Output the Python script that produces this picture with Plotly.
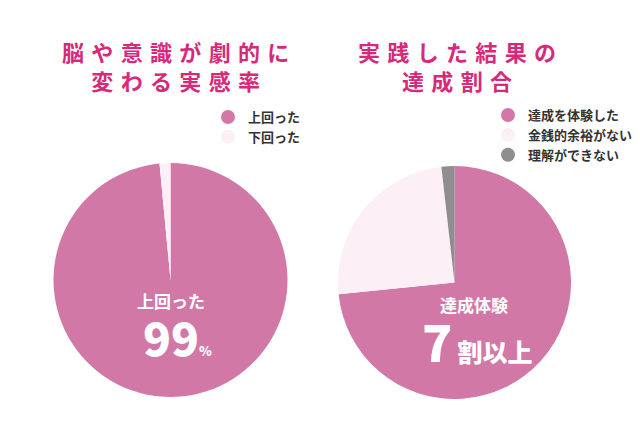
import plotly.graph_objects as go

# left chart data
left_labels = ["上回った", "下回った"]
left_values = [98.5, 1.5]
left_colors = ["#D178A7", "#FDEFF6"]

# right chart data
right_labels = ["達成を体験した", "金銭的余裕がない", "理解ができない"]
right_values = [73.4, 24.8, 1.8]
right_colors = ["#D178A7", "#FDEFF6", "#8E8E8E"]

title_left = ["脳や意識が劇的に", "変わる実感率"]
title_right = ["実践した結果の", "達成割合"]

W, H = 640, 427
OFF = 8  # page body margin
jp = "Noto Sans CJK JP"
title_color = "#D6297A"


def px_x(v):
    return (v - OFF) / W


def px_y(v):
    return 1 - (v - OFF) / H


fig = go.Figure()

fig.add_trace(go.Pie(
    labels=left_labels, values=left_values, sort=False, direction="clockwise",
    marker=dict(colors=left_colors, line=dict(width=0)), textinfo="none",
    showlegend=False,
    domain=dict(x=[px_x(53.5), px_x(287.5)], y=[px_y(397), px_y(163)]),
))
fig.add_trace(go.Pie(
    labels=right_labels, values=right_values, sort=False, direction="clockwise",
    marker=dict(colors=right_colors, line=dict(width=0)), textinfo="none",
    showlegend=False,
    domain=dict(x=[px_x(338), px_x(571)], y=[px_y(399), px_y(166)]),
))

# legend entries as circle markers
for lab, col in zip(left_labels, left_colors):
    fig.add_trace(go.Scatter(x=[None], y=[None], mode="markers", name=lab,
                             marker=dict(color=col, size=14), legend="legend"))
for lab, col in zip(right_labels, right_colors):
    fig.add_trace(go.Scatter(x=[None], y=[None], mode="markers", name=lab,
                             marker=dict(color=col, size=14), legend="legend2"))

legend_font = dict(family=jp, size=13, color="#333333", weight="bold")

fig.update_layout(
    width=W, height=H,
    margin=dict(l=0, r=0, t=0, b=0),
    paper_bgcolor="white", plot_bgcolor="white",
    xaxis=dict(visible=False), yaxis=dict(visible=False),
    legend=dict(x=px_x(208), y=px_y(102), xanchor="left", yanchor="top",
                font=legend_font, bgcolor="rgba(0,0,0,0)", tracegroupgap=0),
    legend2=dict(x=px_x(488), y=px_y(100), xanchor="left", yanchor="top",
                 font=legend_font, bgcolor="rgba(0,0,0,0)", tracegroupgap=0),
)


def spaced(s):
    return "\u2004".join(s)


def note(text, x, y, font):
    fig.add_annotation(text=text, x=px_x(x), y=px_y(y), xref="paper", yref="paper",
                       xanchor="center", yanchor="middle", showarrow=False, font=font)


title_font = dict(family=jp, size=22, color=title_color, weight="bold")
note("<br>".join(spaced(t) for t in title_left), 175, 65, title_font)
note("<br>".join(spaced(t) for t in title_right), 457, 65, title_font)

white_bold = dict(family=jp, color="white", weight="bold")
white_black = dict(family=jp, color="white", weight=900)

note("上回った", 171, 300, dict(size=17, **white_bold))
note("99<span style='font-size:13px'>%</span>", 177, 336, dict(size=46, **white_black))

note("達成体験", 474, 304, dict(size=17, **white_bold))
note("7<span style='font-size:25px'>\u2009割以上</span>", 477, 340, dict(size=50, **white_black))

fig.write_html("out.html")
